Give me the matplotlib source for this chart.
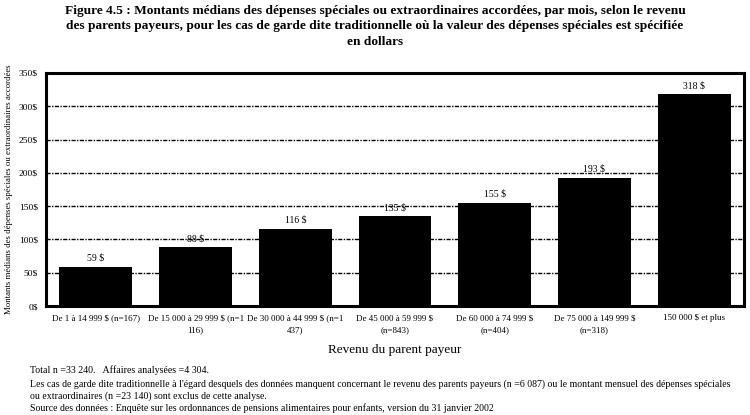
import matplotlib
matplotlib.use("Agg")
import matplotlib.pyplot as plt

categories = [
    "De 1 à 14 999 $ (n=167)",
    "De 15 000 à 29 999 $ (n=1\n116)",
    "De 30 000 à 44 999 $ (n=1\n437)",
    "De 45 000 à 59 999 $\n(n=843)",
    "De 60 000 à 74 999 $\n(n=404)",
    "De 75 000 à 149 999 $\n(n=318)",
    "150 000 $ et plus",
]
values = [59, 88, 116, 135, 155, 193, 318]
value_labels = ["59 $", "88 $", "116 $", "135 $", "155 $", "193 $", "318 $"]
yticks = [0, 50, 100, 150, 200, 250, 300, 350]
ytick_labels = ["0$", "50$", "100$", "150$", "200$", "250$", "300$", "350$"]

title = ("Figure 4.5 : Montants médians des dépenses spéciales ou extraordinaires accordées, par mois, selon le revenu\n"
         "des parents payeurs, pour les cas de garde dite traditionnelle où la valeur des dépenses spéciales est spécifiée\n"
         "en dollars")
footnotes = [
    "Total n =33 240.   Affaires analysées =4 304.",
    "Les cas de garde dite traditionnelle à l'égard desquels des données manquent concernant le revenu des parents payeurs (n =6 087) ou le montant mensuel des dépenses spéciales\nou extraordinaires (n =23 140) sont exclus de cette analyse.",
    "Source des données : Enquête sur les ordonnances de pensions alimentaires pour enfants, version du 31 janvier 2002",
]

plt.rcParams['font.family'] = ['Liberation Serif', 'DejaVu Serif']

fig = plt.figure(figsize=(7.5, 4.15), dpi=100)
ax = fig.add_axes([46/750, 1-306/415, 698/750, 233/415])

x = list(range(len(values)))
ax.bar(x, values, width=0.73, color="black", zorder=3)
for xi, v, lab in zip(x, values, value_labels):
    ax.text(xi, v + 6, lab, ha="center", va="bottom", fontsize=7, zorder=4)

ax.set_xlim(-0.5, len(values) - 0.5)
ax.set_ylim(0, 350)
ax.set_yticks(yticks)
ax.set_yticklabels(ytick_labels, fontsize=6.8)
ax.set_xticks(x)
ax.set_xticklabels(categories, fontsize=6.5, linespacing=1.6)
ax.tick_params(axis="both", length=0, pad=6)
ax.yaxis.grid(True, color="black", linestyle=(0, (3, 1, 1, 1)), linewidth=1.0, zorder=1)
for s in ax.spines.values():
    s.set_linewidth(2.2)

ax.set_xlabel("Revenu du parent payeur", fontsize=9.5, labelpad=7)

fig.text(9/750, 1 - 189/415,
         "Montants médians des dépenses spéciales ou extraordinaires accordées",
         rotation=90, ha="center", va="center", fontsize=6.3)

fig.text(0.5, 1 - 5/415, title, ha="center", va="top", fontsize=9.6, fontweight="bold", linespacing=1.38)

fs = 7.1
fig.text(30/750, 1 - 370/415, footnotes[0], ha="left", va="center", fontsize=fs)
fig.text(30/750, 1 - 379/415, footnotes[1], ha="left", va="top", fontsize=fs, linespacing=1.35)
fig.text(30/750, 1 - 408/415, footnotes[2], ha="left", va="center", fontsize=fs)

fig.savefig("out.png", dpi=100)
